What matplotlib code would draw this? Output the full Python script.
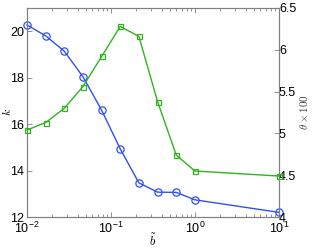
import matplotlib
matplotlib.use("Agg")
import matplotlib.pyplot as plt
from matplotlib.ticker import LogLocator, NullFormatter, FixedLocator

plt.rcParams['font.family'] = ['Liberation Sans', 'DejaVu Sans']
plt.rcParams['mathtext.fontset'] = 'cm'

b_vals = [0.01, 0.0167, 0.0278, 0.0464, 0.0774, 0.129, 0.215, 0.359, 0.599, 1.0, 10.0]
k_vals = [20.27, 19.8, 19.14, 18.04, 16.6, 14.93, 13.47, 13.07, 13.06, 12.74, 12.2]
theta_vals = [5.04, 5.13, 5.30, 5.56, 5.92, 6.28, 6.16, 5.38, 4.74, 4.55, 4.49]

k_ticks = [12, 14, 16, 18, 20]
theta_ticks = [4, 4.5, 5, 5.5, 6, 6.5]
theta_ticklabels = ['4', '4.5', '5', '5.5', '6', '6.5']

fig = plt.figure(figsize=(3.12, 2.5), dpi=100)
ax = fig.add_axes([0.0865, 0.132, 0.8075, 0.836])
ax2 = ax.twinx()

blue = '#3050f5'
green = '#30b41e'

ax.plot(b_vals, k_vals, '-o', color=blue, lw=1.0, ms=5.2, mfc='none', mew=0.9, clip_on=False, zorder=3)
ax2.plot(b_vals, theta_vals, '-s', color=green, lw=1.0, ms=3.6, mfc='none', mew=0.9, clip_on=False, zorder=3)

ax.set_xscale('log')
ax.set_xlim(0.01, 10)
ax.set_ylim(12, 21)
ax2.set_ylim(4, 6.5)
ax.set_yticks(k_ticks)
ax2.set_yticks(theta_ticks)
ax2.set_yticklabels(theta_ticklabels)
ax.xaxis.set_major_locator(FixedLocator([0.01, 0.1, 1, 10]))
ax.xaxis.set_minor_locator(LogLocator(base=10, subs=range(2, 10)))
ax.xaxis.set_minor_formatter(NullFormatter())

gray = '#808080'
for a in (ax, ax2):
    for s in a.spines.values():
        s.set_color(gray)
        s.set_linewidth(0.8)
    a.tick_params(which='both', direction='in', colors=gray, labelcolor='black', labelsize=9, width=0.6)
    a.tick_params(which='major', length=3.5)
    a.tick_params(which='minor', length=2)
ax.tick_params(axis='x', which='both', top=True, pad=3)
ax.tick_params(axis='y', right=False, pad=2)
ax2.tick_params(axis='y', pad=0)

ax.set_xlabel(r'$\tilde{b}$', fontsize=9)
ax.xaxis.set_label_coords(0.5, -0.075)
ax.set_ylabel(r'$k$', fontsize=8.5)
ax.yaxis.set_label_coords(-0.05, 0.5)
ax2.set_ylabel(r'$\theta\times 100$', fontsize=8, color='#404040', rotation=90)
ax2.yaxis.set_label_coords(1.075, 0.5)

fig.savefig('out.png', dpi=100)
